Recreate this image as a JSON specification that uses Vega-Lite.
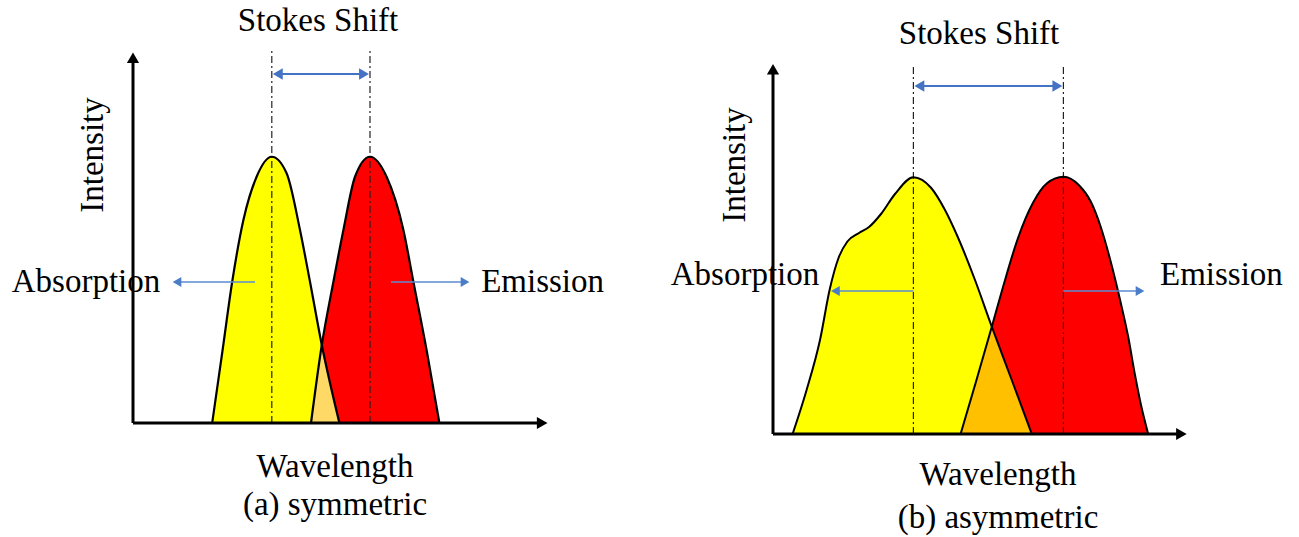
{
  "$schema": "https://vega.github.io/schema/vega-lite/v6.json",
  "padding": 0,
  "spacing": 0,
  "bounds": "flush",
  "background": "white",
  "config": {"view": {"stroke": null}},
  "datasets": {
    "a_curves": [
      {"series": "absorption", "wavelength": 19.8, "intensity": 0},
      {"series": "absorption", "wavelength": 22.4, "intensity": 29.2},
      {"series": "absorption", "wavelength": 24.8, "intensity": 56.5},
      {"series": "absorption", "wavelength": 27.6, "intensity": 81.2},
      {"series": "absorption", "wavelength": 30.9, "intensity": 98.5},
      {"series": "absorption", "wavelength": 34.7, "intensity": 106.5},
      {"series": "absorption", "wavelength": 38.4, "intensity": 99.9},
      {"series": "absorption", "wavelength": 41.75, "intensity": 77.2},
      {"series": "absorption", "wavelength": 44.25, "intensity": 56.5},
      {"series": "absorption", "wavelength": 47.2, "intensity": 31.2},
      {"series": "absorption", "wavelength": 51.6, "intensity": 0},
      {"series": "emission", "wavelength": 44.5, "intensity": 0},
      {"series": "emission", "wavelength": 47.2, "intensity": 31.2},
      {"series": "emission", "wavelength": 50.1, "intensity": 56.5},
      {"series": "emission", "wavelength": 52.6, "intensity": 77.2},
      {"series": "emission", "wavelength": 55.5, "intensity": 98.5},
      {"series": "emission", "wavelength": 59.25, "intensity": 106.5},
      {"series": "emission", "wavelength": 63.4, "intensity": 98.5},
      {"series": "emission", "wavelength": 67.6, "intensity": 77.2},
      {"series": "emission", "wavelength": 70.1, "intensity": 56.5},
      {"series": "emission", "wavelength": 73.4, "intensity": 29.2},
      {"series": "emission", "wavelength": 76.6, "intensity": 0},
      {"series": "overlap", "wavelength": 44.5, "intensity": 0},
      {"series": "overlap", "wavelength": 47.2, "intensity": 31.2},
      {"series": "overlap", "wavelength": 51.6, "intensity": 0}
    ],
    "a_rules": [
      {"kind": "axis", "wavelength": 0, "wavelength2": 0, "intensity": 0, "intensity2": 146},
      {"kind": "axis", "wavelength": 0, "wavelength2": 102.3, "intensity": 0, "intensity2": 0},
      {"kind": "peak", "wavelength": 34.7, "wavelength2": 34.7, "intensity": 0, "intensity2": 149.2},
      {"kind": "peak", "wavelength": 59.25, "wavelength2": 59.25, "intensity": 0, "intensity2": 149.2},
      {"kind": "stokes", "wavelength": 36.2, "wavelength2": 57.75, "intensity": 139.6, "intensity2": 139.6},
      {"kind": "arrow", "wavelength": 11, "wavelength2": 30.5, "intensity": 56.4, "intensity2": 56.4},
      {"kind": "arrow", "wavelength": 64.5, "wavelength2": 83, "intensity": 56.4, "intensity2": 56.4}
    ],
    "a_heads": [
      {"kind": "axis", "dir": "up", "wavelength": 0, "intensity": 146.1},
      {"kind": "axis", "dir": "right", "wavelength": 102.3, "intensity": 0},
      {"kind": "stokes", "dir": "left", "wavelength": 36.2, "intensity": 139.6},
      {"kind": "stokes", "dir": "right", "wavelength": 57.75, "intensity": 139.6},
      {"kind": "arrow", "dir": "left", "wavelength": 11, "intensity": 56.4},
      {"kind": "arrow", "dir": "right", "wavelength": 83, "intensity": 56.4}
    ],
    "a_text": [
      {"label": "Stokes Shift", "rot": "no", "wavelength": 46.25, "intensity": 156.8},
      {"label": "Absorption", "rot": "no", "wavelength": -11.75, "intensity": 52.4},
      {"label": "Emission", "rot": "no", "wavelength": 102.4, "intensity": 52.4},
      {"label": "Wavelength", "rot": "no", "wavelength": 50.5, "intensity": -21.6},
      {"label": "(a) symmetric", "rot": "no", "wavelength": 50.5, "intensity": -36.8},
      {"label": "Intensity", "rot": "yes", "wavelength": -7.5, "intensity": 107.2}
    ],
    "b_curves": [
      {"series": "absorption", "wavelength": 4.9, "intensity": 0},
      {"series": "absorption", "wavelength": 8.4, "intensity": 17.6},
      {"series": "absorption", "wavelength": 11.75, "intensity": 37.6},
      {"series": "absorption", "wavelength": 14.2, "intensity": 58},
      {"series": "absorption", "wavelength": 16.4, "intensity": 70.5},
      {"series": "absorption", "wavelength": 18.6, "intensity": 77},
      {"series": "absorption", "wavelength": 21.5, "intensity": 80.4},
      {"series": "absorption", "wavelength": 24, "intensity": 82.8},
      {"series": "absorption", "wavelength": 27, "intensity": 88},
      {"series": "absorption", "wavelength": 30.5, "intensity": 96},
      {"series": "absorption", "wavelength": 35.1, "intensity": 102.7},
      {"series": "absorption", "wavelength": 39.5, "intensity": 98.5},
      {"series": "absorption", "wavelength": 43, "intensity": 89.6},
      {"series": "absorption", "wavelength": 46, "intensity": 79.5},
      {"series": "absorption", "wavelength": 50.5, "intensity": 61.6},
      {"series": "absorption", "wavelength": 54.7, "intensity": 42.9},
      {"series": "absorption", "wavelength": 59.5, "intensity": 22.4},
      {"series": "absorption", "wavelength": 64.7, "intensity": 0},
      {"series": "emission", "wavelength": 46.9, "intensity": 0},
      {"series": "emission", "wavelength": 50.8, "intensity": 21.2},
      {"series": "emission", "wavelength": 54.7, "intensity": 42.9},
      {"series": "emission", "wavelength": 57.5, "intensity": 58.8},
      {"series": "emission", "wavelength": 61.25, "intensity": 78.4},
      {"series": "emission", "wavelength": 65, "intensity": 92.5},
      {"series": "emission", "wavelength": 68.5, "intensity": 100.3},
      {"series": "emission", "wavelength": 72.6, "intensity": 102.9},
      {"series": "emission", "wavelength": 76.5, "intensity": 99.5},
      {"series": "emission", "wavelength": 79.5, "intensity": 92.8},
      {"series": "emission", "wavelength": 82, "intensity": 82.5},
      {"series": "emission", "wavelength": 84.5, "intensity": 68.5},
      {"series": "emission", "wavelength": 86.8, "intensity": 53.4},
      {"series": "emission", "wavelength": 88.8, "intensity": 38.9},
      {"series": "emission", "wavelength": 90.5, "intensity": 23.6},
      {"series": "emission", "wavelength": 92, "intensity": 11.6},
      {"series": "emission", "wavelength": 93.8, "intensity": 0},
      {"series": "overlap", "wavelength": 46.9, "intensity": 0},
      {"series": "overlap", "wavelength": 54.7, "intensity": 42.9},
      {"series": "overlap", "wavelength": 64.7, "intensity": 0}
    ],
    "b_rules": [
      {"kind": "axis", "wavelength": 0, "wavelength2": 0, "intensity": 0, "intensity2": 145.9},
      {"kind": "axis", "wavelength": 0, "wavelength2": 102.1, "intensity": 0, "intensity2": 0},
      {"kind": "peak", "wavelength": 35.1, "wavelength2": 35.1, "intensity": 0, "intensity2": 147.6},
      {"kind": "peak", "wavelength": 72.6, "wavelength2": 72.6, "intensity": 0, "intensity2": 147.6},
      {"kind": "stokes", "wavelength": 36.6, "wavelength2": 71.1, "intensity": 139.2, "intensity2": 139.2},
      {"kind": "arrow", "wavelength": 15.6, "wavelength2": 35.1, "intensity": 57.2, "intensity2": 57.2},
      {"kind": "arrow", "wavelength": 72.6, "wavelength2": 91.75, "intensity": 57.2, "intensity2": 57.2}
    ],
    "b_heads": [
      {"kind": "axis", "dir": "up", "wavelength": 0, "intensity": 145.9},
      {"kind": "axis", "dir": "right", "wavelength": 102.1, "intensity": 0},
      {"kind": "stokes", "dir": "left", "wavelength": 36.6, "intensity": 139.2},
      {"kind": "stokes", "dir": "right", "wavelength": 71.1, "intensity": 139.2},
      {"kind": "arrow", "dir": "left", "wavelength": 15.6, "intensity": 57.2},
      {"kind": "arrow", "dir": "right", "wavelength": 91.75, "intensity": 57.2}
    ],
    "b_text": [
      {"label": "Stokes Shift", "rot": "no", "wavelength": 51.5, "intensity": 156},
      {"label": "Absorption", "rot": "no", "wavelength": -7, "intensity": 59.6},
      {"label": "Emission", "rot": "no", "wavelength": 112.1, "intensity": 59.6},
      {"label": "Wavelength", "rot": "no", "wavelength": 56.25, "intensity": -20.4},
      {"label": "(b) asymmetric", "rot": "no", "wavelength": 56.25, "intensity": -37.6},
      {"label": "Intensity", "rot": "yes", "wavelength": -7, "intensity": 107.6}
    ]
  },
  "hconcat": [
    {
      "width": 640,
      "height": 537,
      "encoding": {
        "x": {"field": "wavelength", "type": "quantitative", "scale": {"domain": [-33.25, 126.75], "nice": false, "zero": false}, "axis": null},
        "y": {"field": "intensity", "type": "quantitative", "scale": {"domain": [-45.6, 169.2], "nice": false, "zero": false}, "axis": null}
      },
      "layer": [
        {"data": {"name": "a_curves"}, "transform": [{"filter": "datum.series === 'absorption'"}], "mark": {"type": "area", "color": "#FFFF00", "interpolate": "monotone"}, "encoding": {"y": {"field": "intensity", "type": "quantitative", "stack": null}}},
        {"data": {"name": "a_curves"}, "transform": [{"filter": "datum.series === 'emission'"}], "mark": {"type": "area", "color": "#FF0000", "interpolate": "monotone"}, "encoding": {"y": {"field": "intensity", "type": "quantitative", "stack": null}}},
        {"data": {"name": "a_curves"}, "transform": [{"filter": "datum.series === 'overlap'"}], "mark": {"type": "area", "color": "#FFD966", "interpolate": "linear"}, "encoding": {"y": {"field": "intensity", "type": "quantitative", "stack": null}}},
        {"data": {"name": "a_rules"}, "transform": [{"filter": "datum.kind === 'peak'"}], "mark": {"type": "rule", "color": "#222222", "strokeWidth": 1.2, "strokeDash": [7, 3, 2, 3]}, "encoding": {"x2": {"field": "wavelength2"}, "y2": {"field": "intensity2"}}},
        {"data": {"name": "a_curves"}, "transform": [{"filter": "datum.series !== 'overlap'"}], "mark": {"type": "line", "color": "black", "strokeWidth": 2.2, "interpolate": "monotone"}, "encoding": {"detail": {"field": "series"}}},
        {"data": {"name": "a_rules"}, "transform": [{"filter": "datum.kind === 'axis'"}], "mark": {"type": "rule", "color": "black", "strokeWidth": 3}, "encoding": {"x2": {"field": "wavelength2"}, "y2": {"field": "intensity2"}}},
        {"data": {"name": "a_rules"}, "transform": [{"filter": "datum.kind === 'stokes'"}], "mark": {"type": "rule", "color": "#4472C4", "strokeWidth": 2}, "encoding": {"x2": {"field": "wavelength2"}, "y2": {"field": "intensity2"}}},
        {"data": {"name": "a_rules"}, "transform": [{"filter": "datum.kind === 'arrow'"}], "mark": {"type": "rule", "color": "#5B8BD3", "strokeWidth": 1.6}, "encoding": {"x2": {"field": "wavelength2"}, "y2": {"field": "intensity2"}}},
        {"data": {"name": "a_heads"}, "transform": [{"filter": "datum.kind === 'axis'"}], "mark": {"type": "point", "filled": true, "opacity": 1, "color": "black", "size": 150}, "encoding": {"shape": {"field": "dir", "type": "nominal", "scale": {"domain": ["up", "right", "left"], "range": ["triangle-up", "triangle-right", "triangle-left"]}, "legend": null}}},
        {"data": {"name": "a_heads"}, "transform": [{"filter": "datum.kind === 'stokes'"}], "mark": {"type": "point", "filled": true, "opacity": 1, "color": "#4472C4", "size": 130}, "encoding": {"shape": {"field": "dir", "type": "nominal", "scale": {"domain": ["up", "right", "left"], "range": ["triangle-up", "triangle-right", "triangle-left"]}, "legend": null}}},
        {"data": {"name": "a_heads"}, "transform": [{"filter": "datum.kind === 'arrow'"}], "mark": {"type": "point", "filled": true, "opacity": 1, "color": "#4A7CC8", "size": 100}, "encoding": {"shape": {"field": "dir", "type": "nominal", "scale": {"domain": ["up", "right", "left"], "range": ["triangle-up", "triangle-right", "triangle-left"]}, "legend": null}}},
        {"data": {"name": "a_text"}, "transform": [{"filter": "datum.rot === 'no'"}], "mark": {"type": "text", "align": "center", "baseline": "alphabetic", "font": "Liberation Serif", "fontSize": 33, "color": "black"}, "encoding": {"text": {"field": "label"}}},
        {"data": {"name": "a_text"}, "transform": [{"filter": "datum.rot === 'yes'"}], "mark": {"type": "text", "align": "center", "baseline": "alphabetic", "angle": 270, "font": "Liberation Serif", "fontSize": 33, "color": "black"}, "encoding": {"text": {"field": "label"}}}
      ]
    },
    {
      "width": 659,
      "height": 537,
      "encoding": {
        "x": {"field": "wavelength", "type": "quantitative", "scale": {"domain": [-33.25, 131.5], "nice": false, "zero": false}, "axis": null},
        "y": {"field": "intensity", "type": "quantitative", "scale": {"domain": [-41.2, 173.6], "nice": false, "zero": false}, "axis": null}
      },
      "layer": [
        {"data": {"name": "b_curves"}, "transform": [{"filter": "datum.series === 'absorption'"}], "mark": {"type": "area", "color": "#FFFF00", "interpolate": "monotone"}, "encoding": {"y": {"field": "intensity", "type": "quantitative", "stack": null}}},
        {"data": {"name": "b_curves"}, "transform": [{"filter": "datum.series === 'emission'"}], "mark": {"type": "area", "color": "#FF0000", "interpolate": "monotone"}, "encoding": {"y": {"field": "intensity", "type": "quantitative", "stack": null}}},
        {"data": {"name": "b_curves"}, "transform": [{"filter": "datum.series === 'overlap'"}], "mark": {"type": "area", "color": "#FFC000", "interpolate": "linear"}, "encoding": {"y": {"field": "intensity", "type": "quantitative", "stack": null}}},
        {"data": {"name": "b_rules"}, "transform": [{"filter": "datum.kind === 'peak'"}], "mark": {"type": "rule", "color": "#222222", "strokeWidth": 1.2, "strokeDash": [7, 3, 2, 3]}, "encoding": {"x2": {"field": "wavelength2"}, "y2": {"field": "intensity2"}}},
        {"data": {"name": "b_curves"}, "transform": [{"filter": "datum.series !== 'overlap'"}], "mark": {"type": "line", "color": "black", "strokeWidth": 2, "interpolate": "monotone"}, "encoding": {"detail": {"field": "series"}}},
        {"data": {"name": "b_rules"}, "transform": [{"filter": "datum.kind === 'axis'"}], "mark": {"type": "rule", "color": "black", "strokeWidth": 3}, "encoding": {"x2": {"field": "wavelength2"}, "y2": {"field": "intensity2"}}},
        {"data": {"name": "b_rules"}, "transform": [{"filter": "datum.kind === 'stokes'"}], "mark": {"type": "rule", "color": "#4472C4", "strokeWidth": 2}, "encoding": {"x2": {"field": "wavelength2"}, "y2": {"field": "intensity2"}}},
        {"data": {"name": "b_rules"}, "transform": [{"filter": "datum.kind === 'arrow'"}], "mark": {"type": "rule", "color": "#5B8BD3", "strokeWidth": 1.6}, "encoding": {"x2": {"field": "wavelength2"}, "y2": {"field": "intensity2"}}},
        {"data": {"name": "b_heads"}, "transform": [{"filter": "datum.kind === 'axis'"}], "mark": {"type": "point", "filled": true, "opacity": 1, "color": "black", "size": 150}, "encoding": {"shape": {"field": "dir", "type": "nominal", "scale": {"domain": ["up", "right", "left"], "range": ["triangle-up", "triangle-right", "triangle-left"]}, "legend": null}}},
        {"data": {"name": "b_heads"}, "transform": [{"filter": "datum.kind === 'stokes'"}], "mark": {"type": "point", "filled": true, "opacity": 1, "color": "#4472C4", "size": 130}, "encoding": {"shape": {"field": "dir", "type": "nominal", "scale": {"domain": ["up", "right", "left"], "range": ["triangle-up", "triangle-right", "triangle-left"]}, "legend": null}}},
        {"data": {"name": "b_heads"}, "transform": [{"filter": "datum.kind === 'arrow'"}], "mark": {"type": "point", "filled": true, "opacity": 1, "color": "#4A7CC8", "size": 100}, "encoding": {"shape": {"field": "dir", "type": "nominal", "scale": {"domain": ["up", "right", "left"], "range": ["triangle-up", "triangle-right", "triangle-left"]}, "legend": null}}},
        {"data": {"name": "b_text"}, "transform": [{"filter": "datum.rot === 'no'"}], "mark": {"type": "text", "align": "center", "baseline": "alphabetic", "font": "Liberation Serif", "fontSize": 33, "color": "black"}, "encoding": {"text": {"field": "label"}}},
        {"data": {"name": "b_text"}, "transform": [{"filter": "datum.rot === 'yes'"}], "mark": {"type": "text", "align": "center", "baseline": "alphabetic", "angle": 270, "font": "Liberation Serif", "fontSize": 33, "color": "black"}, "encoding": {"text": {"field": "label"}}}
      ]
    }
  ]
}
